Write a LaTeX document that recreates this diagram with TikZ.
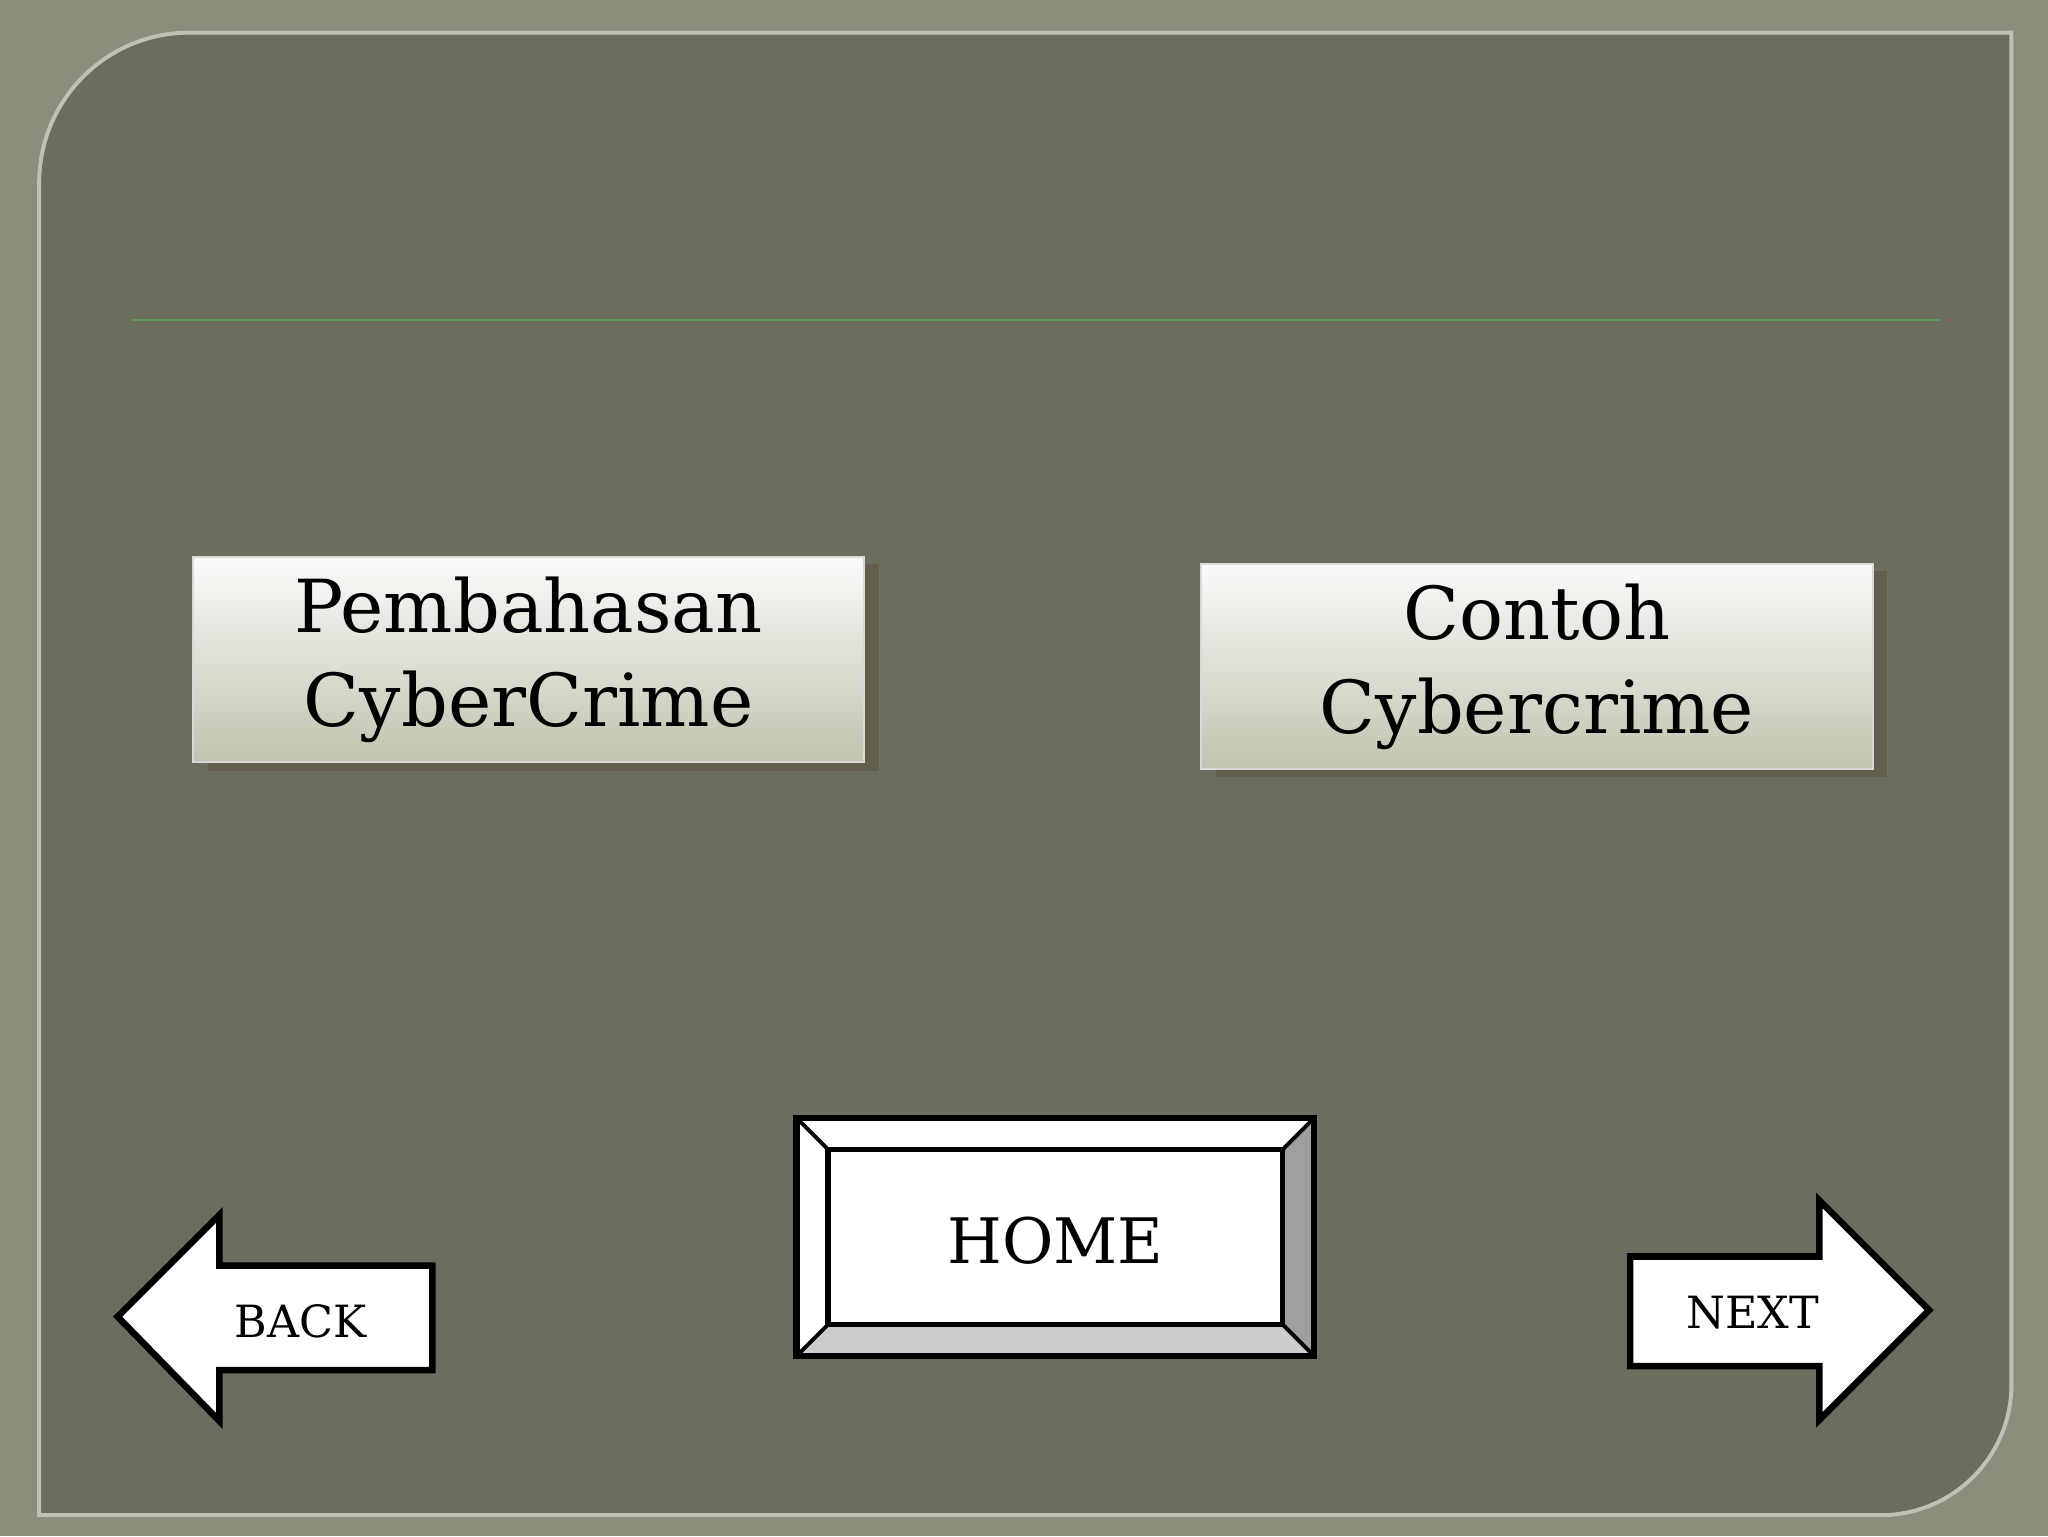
\documentclass[tikz,border=0pt]{standalone}
\usepackage{fontspec}
\setmainfont{DejaVu Serif}
\begin{document}
\begin{tikzpicture}[x=1pt,y=-1pt,
  card/.style={draw=white!70!gray,line width=1.5pt,top color=white!96!gray,bottom color=white!88!olive!60!gray},
  shade/.style={fill=black!70!olive!60!gray},
  arrowshape/.style={draw=black,fill=white,line width=5pt,line join=miter},
  btxt/.style={font=\fontsize{34}{40}\selectfont},
  ctxt/.style={font=\fontsize{56}{72}\selectfont,align=center}]
\definecolor{frame}{HTML}{8A8E7C}
\definecolor{panel}{HTML}{6B6D5F}
\useasboundingbox (0,0) rectangle (1568,1176);
\fill[frame] (0,0) rectangle (1568,1176);
\draw[fill=panel,draw=white!45!frame,line width=3pt]
  (30,140) arc[start angle=180,end angle=270,radius=115] -- (1540,25) -- (1540,1060)
  arc[start angle=0,end angle=90,radius=100] -- (30,1160) -- cycle;
\draw[draw=green!30!gray!80!panel,line width=2pt] (100,245) coordinate (l1) -- (1485,245) coordinate (l2);
% cards
\fill[shade] (159,432) rectangle (673,590);
\node[card,minimum width=514pt,minimum height=157pt,inner sep=0pt,anchor=north west] (c1) at (147,426) {};
\node[ctxt] at (c1.center) {Pembahasan\\CyberCrime};
\fill[shade] (931,437) rectangle (1445,595);
\node[card,minimum width=514pt,minimum height=157pt,inner sep=0pt,anchor=north west] (c2) at (919,431) {};
\node[ctxt] at (c2.center) {Contoh\\Cybercrime};
% home
\fill[white] (610,856) -- (1006,856) -- (982,880) -- (634,880) -- (634,1014) -- (610,1038) -- cycle;
\fill[gray!75] (1006,856) -- (1006,1038) -- (982,1014) -- (982,880) -- cycle;
\fill[gray!40] (610,1038) -- (1006,1038) -- (982,1014) -- (634,1014) -- cycle;
\draw[line width=5pt] (610,856) rectangle (1006,1038);
\draw[line width=4pt,fill=white] (634,880) rectangle (982,1014);
\draw[line width=3pt] (610,856) -- (634,880) (1006,856) -- (982,880) (610,1038) -- (634,1014) (1006,1038) -- (982,1014);
\node[font=\fontsize{48}{56}\selectfont] (home) at (808,950) {HOME};
% back
\draw[arrowshape] (90,1008) -- (168,930) -- (168,969) -- (331,969) -- (331,1049) -- (168,1049) -- (168,1088) -- cycle;
\node[btxt] (back) at (230,1012) {BACK};
% next
\draw[arrowshape] (1248,962) -- (1393,962) -- (1393,919) -- (1477,1003) -- (1393,1087) -- (1393,1046) -- (1248,1046) -- cycle;
\node[btxt] (next) at (1342,1005) {NEXT};
\end{tikzpicture}
\end{document}
